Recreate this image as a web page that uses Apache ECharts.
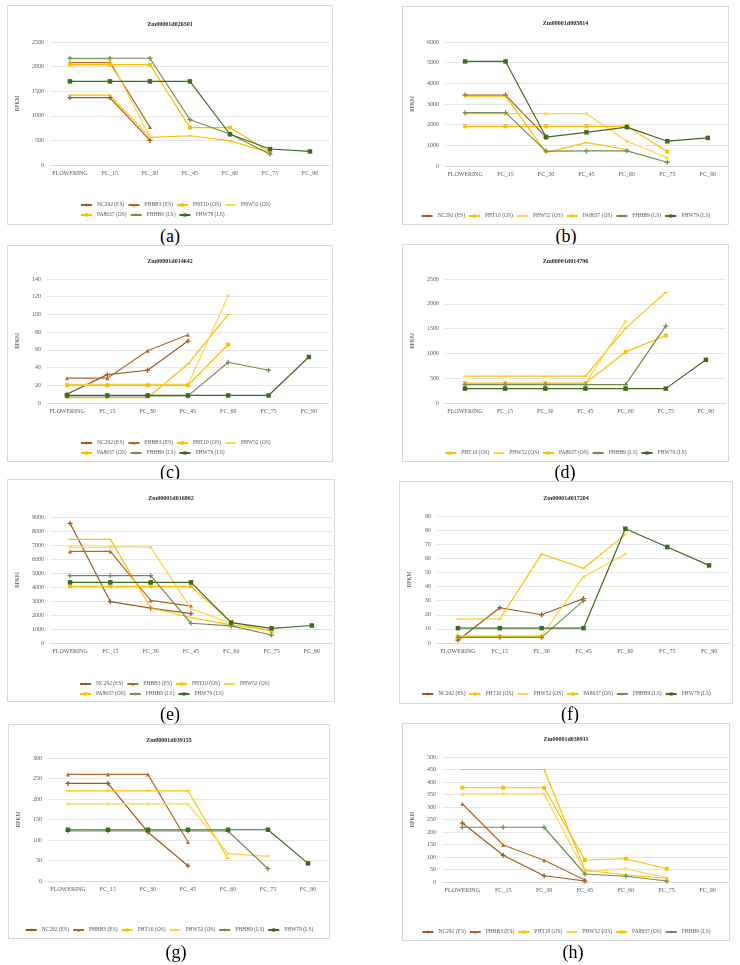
<!DOCTYPE html>
<html><head><meta charset="utf-8">
<script src="https://cdn.jsdelivr.net/npm/echarts@6/dist/echarts.min.js"></script>
<style>
body{margin:0;background:#fff;}
#wrap{position:relative;width:740px;height:965px;background:#fff;overflow:hidden}
.panel{position:absolute;box-shadow:inset 0 0 0 1px #d9d9d9;background:#fff}
.cap{position:absolute;font-family:'Liberation Serif',serif;font-size:18px;color:#000;transform:translate(-50%,-50%);white-space:nowrap}
</style></head>
<body><div id="wrap"></div>
<script>
// ---------- data ----------
const categories = ['FLOWERING','FC_15','FC_30','FC_45','FC_60','FC_75','FC_90'];

// (a) Zm00001d026501
const a_NC292  = [1370,1370,500];
const a_PHBB3  = [2080,2080,770];
const a_PHT10  = [1420,1420,560,595,490,250];
const a_PHW52  = [2150,2150,570];
const a_PA8637 = [2040,2040,2040,760,760,260];
const a_PHHB9  = [2170,2170,2170,920,630,220];
const a_PHW79  = [1700,1700,1700,1700,625,325,275];
const a_ticks  = [0,500,1000,1500,2000,2500];

// (b) Zm00001d005814
const b_NC292  = [3430,3430,1400];
const b_PHT10  = [3380,3380,650,1130,800];
const b_PHW52  = [2530,2530,2530,2530,1200,400];
const b_PA8637 = [1920,1920,1920,1920,1920,700];
const b_PHHB9  = [2580,2580,720,730,730,180];
const b_PHW79  = [5060,5060,1400,1630,1880,1200,1360];
const b_ticks  = [0,1000,2000,3000,4000,5000,6000];

// (c) Zm00001d014642
const c_NC292  = [10,32,37,70];
const c_PHBB3  = [28,28,59,77];
const c_PHT10  = [6,6,6,44,100];
const c_PHW52  = [21,21,21,21,121];
const c_PA8637 = [20,20,20,20,66];
const c_PHHB9  = [8,8,8,8,46,37];
const c_PHW79  = [8.5,8.5,8.5,8.5,8.5,8.5,52];
const c_ticks  = [0,20,40,60,80,100,120,140];

// (d) Zm00001d014796
const d_PHT10  = [540,540,540,540,1510,2230];
const d_PHW52  = [390,390,390,390,1650];
const d_PA8637 = [400,400,400,400,1030,1360];
const d_PHHB9  = [370,370,370,370,370,1550];
const d_PHW79  = [290,290,290,290,290,290,870];
const d_ticks  = [0,500,1000,1500,2000,2500];

// (e) Zm00001d016802
const e_NC292  = [8550,2950,2490,2100];
const e_PHBB3  = [6540,6540,3040,2640];
const e_PHT10  = [7400,7400,2500,1820,1300,900];
const e_PHW52  = [6850,6850,6850,2460,1400];
const e_PA8637 = [4050,4050,4050,4050,1480,840];
const e_PHHB9  = [4810,4810,4810,1410,1220,570];
const e_PHW79  = [4330,4330,4330,4330,1460,1050,1250];
const e_ticks  = [0,1000,2000,3000,4000,5000,6000,7000,8000,9000];

// (f) Zm00001d017204
const f_NC292  = [2,25,20,31.5];
const f_PHT10  = [17,17,63,53,77];
const f_PHW52  = [5,5,5,47,63];
const f_PA8637 = [4.5,4.5,4.5];
const f_PHHB9  = [4,4,4,30];
const f_PHW79  = [10.5,10.5,10.5,10.5,81,68,55];
const f_ticks  = [0,10,20,30,40,50,60,70,80,90];

// (g) Zm00001d039155
const g_NC292  = [238,238,119,37];
const g_PHBB3  = [260,260,260,95];
const g_PHT10  = [220,220,220,220,55];
const g_PHW52  = [188,188,188,188,67,60];
const g_PHHB9  = [122,122,122,122,122,30];
const g_PHW79  = [125,125,125,125,125,125,43];
const g_ticks  = [0,50,100,150,200,250,300];

// (h) Zm00001d038911
const h_NC292  = [236,107,25,4];
const h_PHBB3  = [313,148,87,8];
const h_PHT10  = [450,450,450,48,28,15];
const h_PHW52  = [352,352,352,40,53,17];
const h_PA8637 = [377,377,377,88,93,53];
const h_PHHB9  = [219,219,219,32,23,4];
const h_ticks  = [0,50,100,150,200,250,300,350,400,450,500];

// ---------- styles ----------
const PLUS = 'path://M3,0H5V3H8V5H5V8H3V5H0V3H3Z';
const DASH = 'path://M0,0H8V2H0Z';
const STYLE = {
  'NC292 (ES)':  {color:'#9C5A22', symbol:PLUS, size:5, rot:0},
  'PHBB3 (ES)':  {color:'#B4692A', symbol:'triangle', size:4, rot:0},
  'PHT10 (OS)':  {color:'#FFC000', symbol:DASH, size:[4,1], rot:0},
  'PHW52 (OS)':  {color:'#FFD449', symbol:PLUS, size:4, rot:45},
  'PA8637 (OS)': {color:'#FFBF00', symbol:'rect', size:4, rot:0},
  'PHHB9 (LS)':  {color:'#6F8F50', symbol:PLUS, size:5, rot:0},
  'PHW79 (LS)':  {color:'#3E6A24', symbol:'rect', size:4.5, rot:0}
};
const FONT = 'Liberation Serif';

// ---------- layout ----------
const panels = [
  {id:'a', title:'Zm00001d026501', ticks:a_ticks, box:[7,5,326,220], grid:[30,37,293,123], nameGap:22, titleY:15,
   series:[['NC292 (ES)',a_NC292],['PHBB3 (ES)',a_PHBB3],['PHT10 (OS)',a_PHT10],['PHW52 (OS)',a_PHW52],['PA8637 (OS)',a_PA8637],['PHHB9 (LS)',a_PHHB9],['PHW79 (LS)',a_PHW79]],
   rows:[4,3], legendY:[201,211], legendX:73, cap:[170,236]},
  {id:'b', title:'Zm00001d005814', ticks:b_ticks, box:[402,6,327,219], grid:[30,36,296,124], nameGap:23, titleY:13,
   series:[['NC292 (ES)',b_NC292],['PHT10 (OS)',b_PHT10],['PHW52 (OS)',b_PHW52],['PA8637 (OS)',b_PA8637],['PHHB9 (LS)',b_PHHB9],['PHW79 (LS)',b_PHW79]],
   rows:[6], legendY:[211], legendX:null, cap:[566,236]},
  {id:'c', title:'Zm00001d014642', ticks:c_ticks, box:[7,245,326,217], grid:[29,34,293,124], nameGap:21, titleY:12,
   series:[['NC292 (ES)',c_NC292],['PHBB3 (ES)',c_PHBB3],['PHT10 (OS)',c_PHT10],['PHW52 (OS)',c_PHW52],['PA8637 (OS)',c_PA8637],['PHHB9 (LS)',c_PHHB9],['PHW79 (LS)',c_PHW79]],
   rows:[4,3], legendY:[199,209], legendX:73, cap:[170,472]},
  {id:'d', title:'Zm00001d014796', ticks:d_ticks, box:[402,244,327,218], grid:[29,35,295,124], nameGap:22, titleY:13,
   series:[['PHT10 (OS)',d_PHT10],['PHW52 (OS)',d_PHW52],['PA8637 (OS)',d_PA8637],['PHHB9 (LS)',d_PHHB9],['PHW79 (LS)',d_PHW79]],
   rows:[5], legendY:[210], legendX:null, cap:[565,472]},
  {id:'e', title:'Zm00001d016802', ticks:e_ticks, box:[7,479,328,223], grid:[26,38,299,126], nameGap:23, titleY:15,
   series:[['NC292 (ES)',e_NC292],['PHBB3 (ES)',e_PHBB3],['PHT10 (OS)',e_PHT10],['PHW52 (OS)',e_PHW52],['PA8637 (OS)',e_PA8637],['PHHB9 (LS)',e_PHHB9],['PHW79 (LS)',e_PHW79]],
   rows:[4,3], legendY:[206,216], legendX:72, cap:[170,714]},
  {id:'f', title:'Zm00001d017204', ticks:f_ticks, box:[399,481,334,223], grid:[30,35,301,127], nameGap:24, titleY:13,
   series:[['NC292 (ES)',f_NC292],['PHT10 (OS)',f_PHT10],['PHW52 (OS)',f_PHW52],['PA8637 (OS)',f_PA8637],['PHHB9 (LS)',f_PHHB9],['PHW79 (LS)',f_PHW79]],
   rows:[6], legendY:[214], legendX:null, cap:[570,714]},
  {id:'g', title:'Zm00001d039155', ticks:g_ticks, box:[8,724,322,215], grid:[28,34,292,123], nameGap:21, titleY:12,
   series:[['NC292 (ES)',g_NC292],['PHBB3 (ES)',g_PHBB3],['PHT10 (OS)',g_PHT10],['PHW52 (OS)',g_PHW52],['PHHB9 (LS)',g_PHHB9],['PHW79 (LS)',g_PHW79]],
   rows:[6], legendY:[207], legendX:null, cap:[176,952]},
  {id:'h', title:'Zm00001d038911', ticks:h_ticks, box:[402,723,328,218], grid:[29,34,297,125], nameGap:22, titleY:12,
   series:[['NC292 (ES)',h_NC292],['PHBB3 (ES)',h_PHBB3],['PHT10 (OS)',h_PHT10],['PHW52 (OS)',h_PHW52],['PA8637 (OS)',h_PA8637],['PHHB9 (LS)',h_PHHB9]],
   rows:[6], legendY:[210], legendX:null, cap:[573,952]}
];

const wrap = document.getElementById('wrap');
panels.forEach(p => {
  const div = document.createElement('div');
  div.className = 'panel';
  div.style.left = p.box[0]+'px'; div.style.top = p.box[1]+'px';
  div.style.width = p.box[2]+'px'; div.style.height = p.box[3]+'px';
  wrap.appendChild(div);
  const cap = document.createElement('div');
  cap.className = 'cap';
  cap.style.left = p.cap[0]+'px'; cap.style.top = p.cap[1]+'px';
  cap.textContent = '(' + p.id + ')';
  wrap.appendChild(cap);

  const ticks = p.ticks;
  const step = ticks[1]-ticks[0];
  const names = p.series.map(s => s[0]);
  const legends = [];
  let idx = 0;
  p.rows.forEach((n, r) => {
    const lg = {
      data: names.slice(idx, idx+n),
      top: p.legendY[r]-4,
      itemWidth: 11, itemHeight: 4, itemGap: 3, padding: 0,
      textStyle: {fontSize: 5.5, color: '#595959', fontFamily: FONT},
      selectedMode: false
    };
    if (p.legendX === null) lg.left = 'center'; else lg.left = p.legendX;
    legends.push(lg);
    idx += n;
  });

  const chart = echarts.init(div, null, {renderer:'canvas', width:p.box[2], height:p.box[3]});
  chart.setOption({
    animation: false,
    textStyle: {fontFamily: FONT},
    title: {text: p.title, left: 'center', top: p.titleY-4,
      textStyle: {fontSize: 6, fontWeight: 'bold', color: '#262626', fontFamily: FONT}},
    legend: legends,
    grid: {left: p.grid[0], top: p.grid[1], width: p.grid[2], height: p.grid[3], containLabel: false},
    xAxis: {type:'category', data: categories, boundaryGap: true,
      axisTick: {show:false}, axisLine: {lineStyle: {color:'#d9d9d9'}},
      axisLabel: {fontSize: 6, color:'#595959', margin: 5, interval: 0, fontFamily: FONT}},
    yAxis: {type:'value', min: ticks[0], max: ticks[ticks.length-1], interval: step,
      axisLabel: {fontSize: 6, color:'#595959', margin: 6, fontFamily: FONT, formatter: v => String(v)},
      axisLine: {show:false}, axisTick: {show:false},
      splitLine: {lineStyle: {color:'#e6e6e6', width:1}},
      name: 'RPKM', nameLocation: 'middle', nameRotate: 90, nameGap: p.nameGap,
      nameTextStyle: {fontSize: 5.5, color:'#595959', fontFamily: FONT}},
    series: p.series.map(([name, data]) => {
      const st = STYLE[name];
      return {
        type: 'line', name: name, data: data,
        symbol: st.symbol, symbolSize: st.size, symbolRotate: st.rot, showAllSymbol: true,
        lineStyle: {color: st.color, width: 1.2},
        itemStyle: {color: st.color, borderWidth: 0},
        color: st.color,
        emphasis: {disabled: true},
        connectNulls: false
      };
    })
  });
});
</script></body></html>
